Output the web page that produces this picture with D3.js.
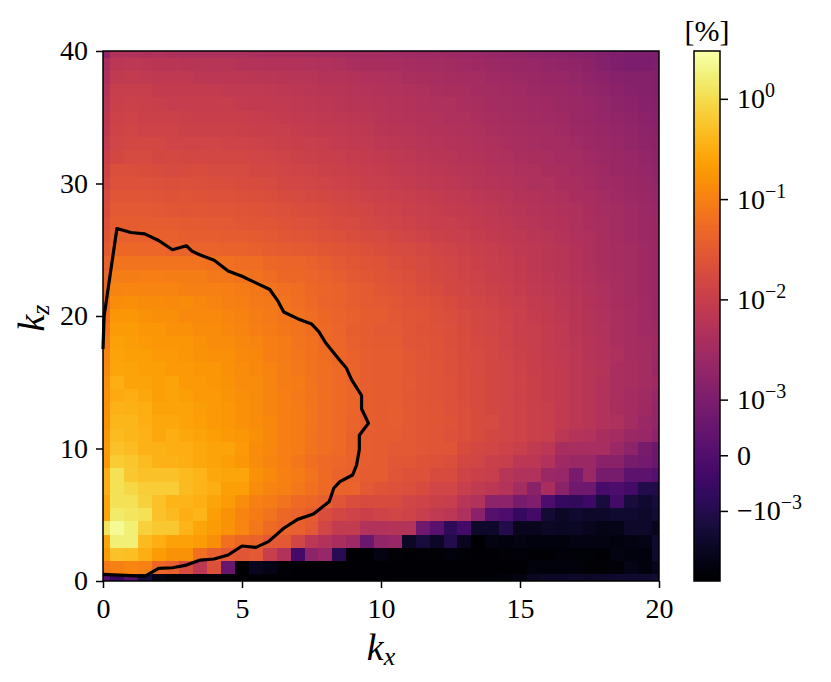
<!DOCTYPE html>
<html>
<head>
<meta charset="utf-8">
<script src="https://cdn.jsdelivr.net/npm/d3@7"></script>
<style>
  body { margin: 0; background: #fff; }
  text { font-family: "Liberation Serif", serif; fill: #000; }
</style>
</head>
<body>
<svg id="chart"></svg>
<script>
const kxValues = d3.range(41).map((i) => i / 2);
const kzValues = d3.range(41);

// energy in units of 1e-4 %, one row per kz (kz = 0 first), one column per kx
const energyUnit = 1e-4;
const energy = [
  [1,-6,1,-14,-34,-42,-44,-45,-45,-45,-46,-46,-46,-46,-46,-46,-46,-46,-46,-46,-46,-45,-45,-45,-44,-44,-44,-43,-42,-38,-34,-24,-22,-21,-20,-22,-20,-19,-18,-18,-16],
  [790,1000,1130,1000,480,380,180,70,230,5,-48,-26,-30,-44,-46,-47,-47,-47,-47,-47,-47,-47,-47,-47,-47,-47,-47,-47,-47,-47,-47,-38,-38,-38,-38,-44,-44,-40,-30,-36,-28],
  [2060,5400,4850,3300,2060,1620,1620,620,380,300,260,300,100,50,-3,17,22,-9,-48,-48,-34,-44,-46,-44,-44,-38,-44,-46,-46,-44,-40,-46,-46,-40,-42,-44,-46,-34,-36,-36,-18],
  [2600,16300,16300,4300,3300,2330,2330,2060,1440,620,480,430,300,300,145,70,50,40,28,6,19,22,-23,-14,-23,-10,-26,-48,-34,-36,-34,-36,-36,-38,-32,-34,-34,-36,-34,-30,-18],
  [12700,24000,16300,7800,6100,6100,3800,2600,2060,1620,1130,790,550,430,380,300,145,90,90,50,50,55,55,7,2,-8,-3,-20,-20,-10,-26,-26,-23,-24,-23,-26,-30,-30,-20,-20,-26],
  [2600,14400,12700,11300,5400,4300,3300,3800,2300,1600,1120,880,700,480,420,335,200,160,128,115,130,145,130,100,80,70,45,15,1,-1,-6,-3,-16,-23,-18,-20,-20,-18,-18,-20,-16],
  [2600,11300,11300,7800,5400,3800,3800,3300,2600,2050,1430,1000,880,700,550,480,380,265,200,180,180,180,145,130,115,100,62,50,17,17,9,11,-1,-6,-7,-4,-14,-3,-14,-18,-14],
  [3300,11300,8900,6900,6900,6900,4300,3800,3350,2300,2300,1430,1120,1000,780,620,550,420,420,300,250,230,205,180,145,145,100,80,70,55,32,15,40,15,7,7,-2,-1,-3,-10,-11],
  [3300,11300,6100,5400,5400,5400,4300,3800,2900,2600,2600,1600,1270,1000,880,700,550,420,380,340,330,260,230,230,180,180,130,115,100,62,50,50,25,22,9,25,9,9,3,3,1],
  [1950,6700,5850,4600,3640,3640,3230,2850,2480,2210,1750,1370,1080,950,750,590,525,465,410,360,340,280,280,240,230,205,160,145,115,100,70,70,50,28,25,25,15,15,9,8,6],
  [1950,5200,4600,3640,3640,3230,3230,2850,2480,2480,1950,1370,1220,950,850,670,590,525,410,360,340,310,310,280,260,260,180,160,145,125,100,85,70,38,38,38,38,24,17,9,6],
  [1750,4600,4050,3640,2850,3230,2850,2480,2210,1950,1750,1550,1220,950,850,670,590,525,410,360,340,340,310,280,260,230,205,180,160,145,130,115,100,70,55,50,40,35,25,22,17],
  [1650,4050,4050,3230,2850,2850,2480,2210,1950,1750,1550,1370,1220,950,850,710,590,525,435,375,340,360,310,280,270,240,205,180,170,145,130,115,100,85,70,62,50,45,32,25,20],
  [1550,3640,3450,3230,2480,2480,2480,2100,1950,1800,1550,1370,1125,950,850,710,590,525,450,375,340,360,310,280,260,230,205,180,160,145,130,110,100,85,70,60,50,40,35,28,20],
  [1550,3050,3230,2850,2250,2480,2250,1950,1950,1725,1500,1350,1125,950,825,710,600,510,450,375,340,340,290,270,250,230,200,180,160,145,125,110,95,85,70,60,50,42,35,30,22],
  [1370,3230,2480,2480,2210,2480,1950,1950,1750,1650,1370,1370,1080,900,850,675,590,525,450,360,340,340,310,270,250,230,200,180,160,145,130,110,95,85,70,62,52,42,38,32,28],
  [1220,2600,2480,2250,2210,1950,1950,1750,1750,1550,1370,1220,1080,900,790,675,590,510,435,360,340,330,290,270,250,220,200,170,160,140,125,105,95,85,70,60,55,42,38,32,25],
  [1080,2480,2210,2210,1950,1950,1750,1650,1550,1550,1275,1220,975,850,750,640,555,490,410,345,330,330,290,260,240,220,190,170,150,135,120,105,90,80,70,58,52,45,36,32,26],
  [850,2330,2100,1950,1750,1750,1750,1550,1370,1370,1220,1080,950,850,735,640,525,465,390,340,320,315,270,250,240,210,190,165,150,130,115,100,90,78,68,58,50,42,36,32,28],
  [710,2000,2000,1900,1800,1550,1550,1370,1370,1220,1080,975,850,750,675,590,510,450,375,340,310,310,270,240,230,205,180,160,145,130,110,100,88,78,65,56,50,42,36,30,26],
  [600,1830,1750,1650,1500,1450,1300,1300,1300,1150,1040,900,840,720,640,560,500,420,385,330,340,290,260,250,220,200,175,155,140,125,110,95,85,75,65,55,48,42,36,30,25],
  [530,1400,1500,1350,1350,1250,1350,1200,1080,1000,940,830,790,700,580,520,430,400,360,320,300,280,240,230,205,180,160,145,130,115,100,90,80,70,62,52,46,40,35,30,24],
  [550,1100,1130,1100,1100,1100,1000,1000,1000,950,850,790,700,620,560,500,440,400,360,320,280,255,225,200,180,160,145,130,118,105,95,82,75,66,58,50,44,38,33,28,24],
  [480,890,890,950,950,890,890,890,800,760,700,640,560,500,500,440,400,350,310,280,255,230,205,185,165,150,135,122,108,98,88,78,70,62,55,48,42,38,33,28,24],
  [400,700,700,700,700,700,700,700,620,620,560,560,500,440,440,400,350,310,280,255,235,210,190,170,155,140,128,115,104,94,84,74,68,60,52,46,40,36,32,28,24],
  [300,480,480,460,460,430,430,430,430,400,400,380,360,340,320,300,280,250,235,215,200,185,170,155,140,130,118,108,98,88,78,72,66,60,52,46,40,36,32,28,24],
  [250,380,380,380,380,380,360,360,360,340,340,320,300,280,270,250,230,215,200,185,170,155,140,130,118,110,100,92,84,78,72,66,60,54,48,44,38,34,30,27,24],
  [220,340,340,340,330,330,320,320,300,300,280,270,260,240,230,215,200,185,170,158,145,135,125,115,108,100,92,85,78,72,68,62,56,52,46,42,38,33,30,27,24],
  [190,300,300,300,290,280,270,280,270,260,250,235,225,215,200,190,180,168,155,142,132,122,112,104,96,90,84,78,72,66,62,56,52,48,44,40,36,32,29,26,22],
  [170,260,260,260,250,240,250,235,230,225,215,205,195,185,175,165,155,145,135,125,118,110,102,95,88,82,76,70,66,60,56,52,48,44,40,37,33,30,27,24,21],
  [140,230,230,230,220,205,220,205,200,195,190,178,170,160,150,142,135,125,118,108,100,95,88,82,78,72,68,62,58,54,50,46,44,40,37,34,30,28,25,23,20],
  [125,205,205,200,190,175,180,190,175,170,170,155,150,142,135,128,120,112,105,98,92,86,80,75,70,66,62,57,53,50,46,43,40,37,34,31,28,25,23,21,18],
  [110,160,175,175,160,165,155,150,150,150,150,140,135,128,120,112,108,100,95,90,84,78,72,68,65,60,56,52,48,45,42,39,37,34,32,29,26,24,22,20,17],
  [90,145,160,150,148,135,135,135,145,130,130,122,118,112,108,100,96,90,85,80,75,70,66,62,58,55,52,48,44,41,38,36,34,32,29,27,25,22,20,18,16],
  [78,130,142,130,130,128,120,120,118,118,115,108,105,100,95,90,85,80,76,72,68,64,60,56,53,50,47,44,41,38,36,34,32,30,27,25,23,21,19,17,15],
  [70,125,130,120,120,118,110,108,108,108,105,96,95,90,86,82,78,74,70,66,62,58,56,52,50,46,44,41,38,36,33,31,29,28,25,23,21,19,18,16,14],
  [62,115,120,110,108,98,98,98,98,96,90,86,86,82,78,75,71,68,64,60,57,54,52,48,46,43,41,38,35,33,31,29,28,26,24,22,20,17,16,14,13],
  [55,100,100,100,90,88,88,88,88,82,80,80,76,72,70,67,64,62,58,56,52,50,47,44,42,40,38,35,33,31,29,27,25,24,22,20,18,16,14,13,12],
  [45,80,88,82,78,78,78,70,70,70,70,66,66,64,62,60,56,54,52,48,47,44,42,40,38,36,34,32,30,28,26,24,23,22,20,18,16,14,13,13,12],
  [38,70,72,70,68,68,64,60,60,60,54,54,52,52,52,50,47,44,42,40,40,38,36,35,33,31,30,28,26,25,23,22,20,19,18,16,13,11,10,10,11],
  [19,50,50,48,50,45,46,46,43,43,43,42,40,40,38,38,36,36,34,33,32,31,30,28,28,26,25,24,22,21,20,18,17,16,15,14,12,11,10,10,10]
];

// contour line
const contourKx = [0,0.04,0.5,1,1.5,2,2.5,3,3.2,3.5,4,4.5,5,5.5,6,6.3,6.5,7,7.5,7.77,8,8.5,8.76,8.94,9.3,9.3,9.55,9.22,9.22,9.12,8.98,8.52,8.3,8.14,7.57,7,6.5,5.95,5.5,5,4.5,4,3.5,3,2.5,2,1.5,1,0];
const contourKz = [17.5,20,26.6,26.3,26.2,25.7,25,25.3,24.9,24.6,24.2,23.4,23,22.5,22,21.1,20.3,19.8,19.4,18.8,18,16.7,16.05,15.2,14,13,11.9,11,9.9,8.75,8,7.5,7,6,5.05,4.65,3.98,2.97,2.54,2.64,1.96,1.66,1.58,1.2,1,0.96,0.35,0.4,0.5];

const xTicks = [0, 5, 10, 15, 20];
const yTicks = [0, 10, 20, 30, 40];
const colorTicks = [1, 0.1, 0.01, 0.001, 0, -0.001];
const colorMin = -0.005;
const colorMax = 3;

const linThresh = 1e-3;
const linScale = 0.555;

const width = 831;
const height = 682;
const plot = { left: 103, right: 659, top: 51, bottom: 581 };
const bar = { left: 694, right: 720 };
const fontSize = 28;

// same shape as matplotlib's SymLogNorm
const symlog = (v) => {
  const a = Math.abs(v);
  if (a <= linThresh) return (v / linThresh) * linScale;
  return Math.sign(v) * (linScale + Math.log10(a / linThresh));
};

const svg = d3.select("#chart")
  .attr("width", width)
  .attr("height", height)
  .style("display", "block");

const xScale = d3.scaleLinear().domain([0, 20]).range([plot.left, plot.right]);
const yScale = d3.scaleLinear().domain([0, 40]).range([plot.bottom, plot.top]);
const colorPos = d3.scaleLinear()
  .domain([symlog(colorMin), symlog(colorMax)])
  .range([0, 1]);
const color = (v) => d3.interpolateInferno(colorPos(symlog(v)));
const barScale = d3.scaleLinear()
  .domain([symlog(colorMin), symlog(colorMax)])
  .range([plot.bottom, plot.top]);

// cells are centred on the grid points, edge rows and columns get cut by the axes
const cells = [];
kzValues.forEach((kz, j) => {
  kxValues.forEach((kx, i) => {
    cells.push({ kx, kz, value: energy[j][i] * energyUnit });
  });
});

svg.append("g")
  .attr("shape-rendering", "crispEdges")
  .selectAll("rect")
  .data(cells)
  .enter().append("rect")
  .attr("x", (d) => xScale(Math.max(0, d.kx - 0.25)))
  .attr("y", (d) => yScale(Math.min(40, d.kz + 0.5)))
  .attr("width", (d) => xScale(Math.min(20, d.kx + 0.25)) - xScale(Math.max(0, d.kx - 0.25)))
  .attr("height", (d) => yScale(Math.max(0, d.kz - 0.5)) - yScale(Math.min(40, d.kz + 0.5)))
  .attr("fill", (d) => color(d.value));

const line = d3.line()
  .x((d, i) => xScale(contourKx[i]))
  .y((d, i) => yScale(contourKz[i]));

svg.append("path")
  .attr("d", line(contourKx))
  .attr("fill", "none")
  .attr("stroke", "#000")
  .attr("stroke-width", 3.2)
  .attr("stroke-linejoin", "round");

svg.append("rect")
  .attr("x", plot.left)
  .attr("y", plot.top)
  .attr("width", plot.right - plot.left)
  .attr("height", plot.bottom - plot.top)
  .attr("fill", "none")
  .attr("stroke", "#000")
  .attr("stroke-width", 1.5);

const xAxis = svg.append("g")
  .attr("transform", `translate(0, ${plot.bottom})`)
  .call(d3.axisBottom(xScale).tickValues(xTicks).tickSize(7).tickPadding(10).tickFormat(d3.format("d")));

const yAxis = svg.append("g")
  .attr("transform", `translate(${plot.left}, 0)`)
  .call(d3.axisLeft(yScale).tickValues(yTicks).tickSize(7).tickPadding(8).tickFormat(d3.format("d")));

[xAxis, yAxis].forEach((axis) => {
  axis.select(".domain").remove();
  axis.selectAll("line").attr("stroke-width", 1.5);
  axis.selectAll("text").attr("font-size", fontSize).attr("font-family", null);
});

// colour bar
const barSteps = d3.range(0, 530);
svg.append("g")
  .attr("shape-rendering", "crispEdges")
  .selectAll("rect")
  .data(barSteps)
  .enter().append("rect")
  .attr("x", bar.left)
  .attr("width", bar.right - bar.left)
  .attr("y", (d) => plot.top + d)
  .attr("height", 1)
  .attr("fill", (d) => d3.interpolateInferno(1 - d / 530));

svg.append("rect")
  .attr("x", bar.left)
  .attr("y", plot.top)
  .attr("width", bar.right - bar.left)
  .attr("height", plot.bottom - plot.top)
  .attr("fill", "none")
  .attr("stroke", "#000")
  .attr("stroke-width", 1.5);

const barAxis = svg.append("g")
  .attr("transform", `translate(${bar.right}, 0)`)
  .call(d3.axisRight(barScale).tickValues(colorTicks.map(symlog)).tickSize(8).tickPadding(9).tickFormat(""));

barAxis.select(".domain").remove();
barAxis.selectAll("line").attr("stroke-width", 1.5);

barAxis.selectAll("text")
  .attr("font-size", fontSize)
  .attr("font-family", null)
  .each(function (d, i) {
    const value = colorTicks[i];
    const label = d3.select(this);
    if (value === 0) {
      label.text("0");
      return;
    }
    const exp = Math.round(Math.log10(Math.abs(value)));
    label.append("tspan").text(value < 0 ? "\u221210" : "10");
    label.append("tspan")
      .attr("font-size", 20)
      .attr("dy", -11)
      .text(String(exp).replace("-", "\u2212"));
  });

svg.append("text")
  .attr("x", (bar.left + bar.right) / 2)
  .attr("y", 41)
  .attr("text-anchor", "middle")
  .attr("font-size", 30)
  .text("[%]");

// axis titles
const xTitle = svg.append("text")
  .attr("x", (plot.left + plot.right) / 2)
  .attr("y", 660)
  .attr("text-anchor", "middle")
  .attr("font-size", 38)
  .attr("font-style", "italic");
xTitle.append("tspan").text("k");
xTitle.append("tspan").attr("font-size", 26).attr("dy", 5).text("x");

const yTitle = svg.append("text")
  .attr("transform", `translate(44, ${(plot.top + plot.bottom) / 2 + 2}) rotate(-90)`)
  .attr("text-anchor", "middle")
  .attr("font-size", 38)
  .attr("font-style", "italic");
yTitle.append("tspan").text("k");
yTitle.append("tspan").attr("font-size", 26).attr("dy", 5).text("z");
</script>
</body>
</html>
